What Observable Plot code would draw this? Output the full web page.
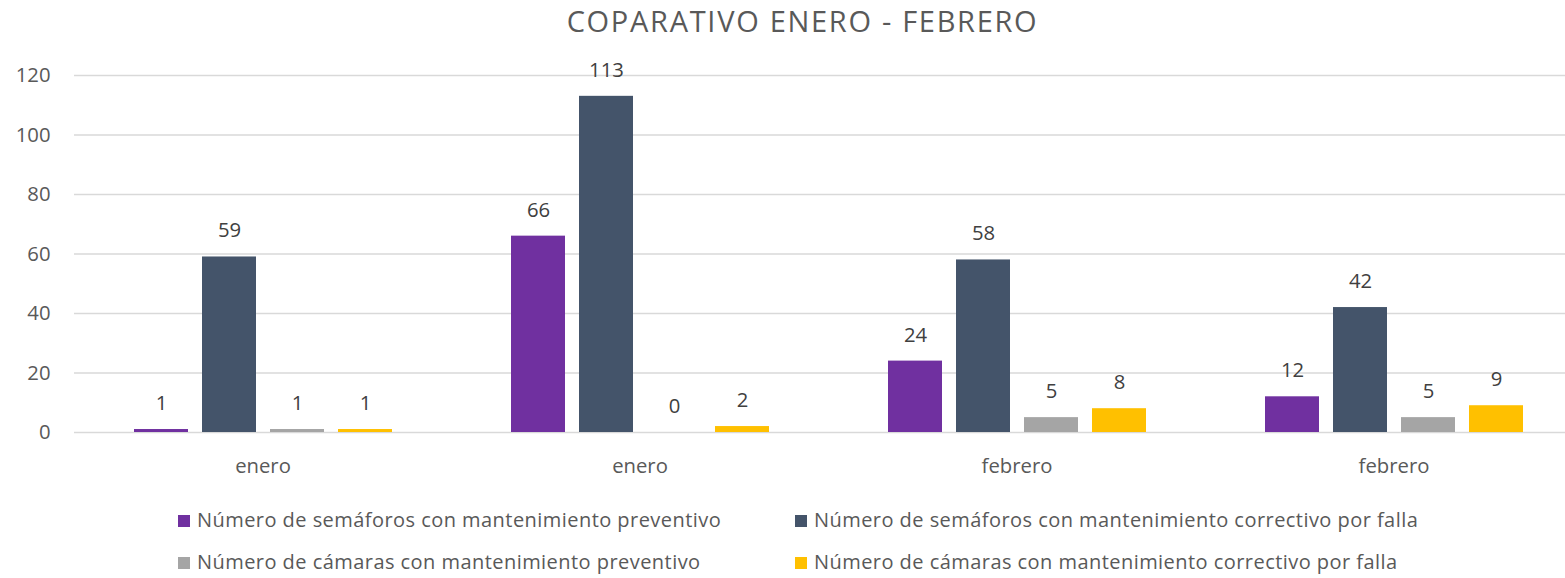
<!DOCTYPE html>
<html>
<head>
<meta charset="utf-8">
<script src="https://cdn.jsdelivr.net/npm/d3@7"></script>
<script src="https://cdn.jsdelivr.net/npm/@observablehq/plot@0.6"></script>
<style>
  html, body { margin: 0; padding: 0; background: #fff; overflow: hidden; }
  body { width: 1565px; height: 578px; position: relative; font-family: "Open Sans", sans-serif; }
  #title { position: absolute; left: 0; top: 1px; width: 1605px; text-align: center; font-size: 29px; letter-spacing: 1.7px; color: #595959; }
  #chart { position: absolute; left: 0; top: 50px; width: 1583px; }
  .leg { position: absolute; font-size: 20px; letter-spacing: 0.45px; color: #595959; white-space: nowrap; line-height: 24px; }
  .leg span.sw { display: inline-block; width: 12px; height: 12px; margin-right: 7px; vertical-align: 0px; }
</style>
</head>
<body>
<div id="title">COPARATIVO ENERO - FEBRERO</div>
<div id="chart"></div>
<div id="legend"></div>
<script>
const groups = ["g1", "g2", "g3", "g4"];
const groupLabels = ["enero", "enero", "febrero", "febrero"];
const series = [
  "Número de semáforos con mantenimiento preventivo",
  "Número de semáforos con mantenimiento correctivo por falla",
  "Número de cámaras con mantenimiento preventivo",
  "Número de cámaras con mantenimiento correctivo por falla"
];
const colors = ["#7030A0", "#44546A", "#A5A5A5", "#FFC000"];
const semPrev = [1, 66, 24, 12];
const semCorr = [59, 113, 58, 42];
const camPrev = [1, 0, 5, 5];
const camCorr = [1, 2, 8, 9];
const yTicks = [0, 20, 40, 60, 80, 100, 120];

const seriesValues = [semPrev, semCorr, camPrev, camCorr];
const data = [];
groups.forEach((g, i) => {
  series.forEach((s, j) => data.push({group: g, series: s, value: seriesValues[j][i]}));
});

const plot = Plot.plot({
  width: 1583,
  height: 432,
  marginLeft: 72,
  marginRight: 0,
  marginTop: 25,
  marginBottom: 50,
  style: {fontFamily: "'Open Sans', sans-serif", fontSize: "20.3px", color: "#595959", background: "#fff", maxWidth: "none"},
  fx: {domain: groups, padding: 0, axis: "bottom", label: null, tickSize: 0, tickPadding: 26,
       tickFormat: g => groupLabels[groups.indexOf(g)]},
  x: {domain: series, paddingInner: 0.213, paddingOuter: 0.86, axis: null},
  y: {domain: [0, 120], ticks: yTicks, axis: "left", label: null, tickSize: 0, tickPadding: 24},
  color: {domain: series, range: colors},
  marks: [
    Plot.ruleY(yTicks, {stroke: "#d9d9d9", strokeWidth: 1.3}),
    Plot.barY(data, {fx: "group", x: "series", y: "value", fill: "series"}),
    Plot.text(data, {fx: "group", x: "series", y: "value", text: d => String(d.value), dy: -26,
                     fill: "#404040", fontSize: 20.3})
  ]
});
plot.style.maxWidth = "none";
document.getElementById("chart").appendChild(plot);

const legPos = [[178, 508], [795, 508], [178, 550], [795, 550]];
const leg = document.getElementById("legend");
series.forEach((s, i) => {
  const d = document.createElement("div");
  d.className = "leg";
  d.style.left = legPos[i][0] + "px";
  d.style.top = legPos[i][1] + "px";
  d.innerHTML = `<span class="sw" style="background:${colors[i]}"></span>${s}`;
  leg.appendChild(d);
});
</script>
</body>
</html>
